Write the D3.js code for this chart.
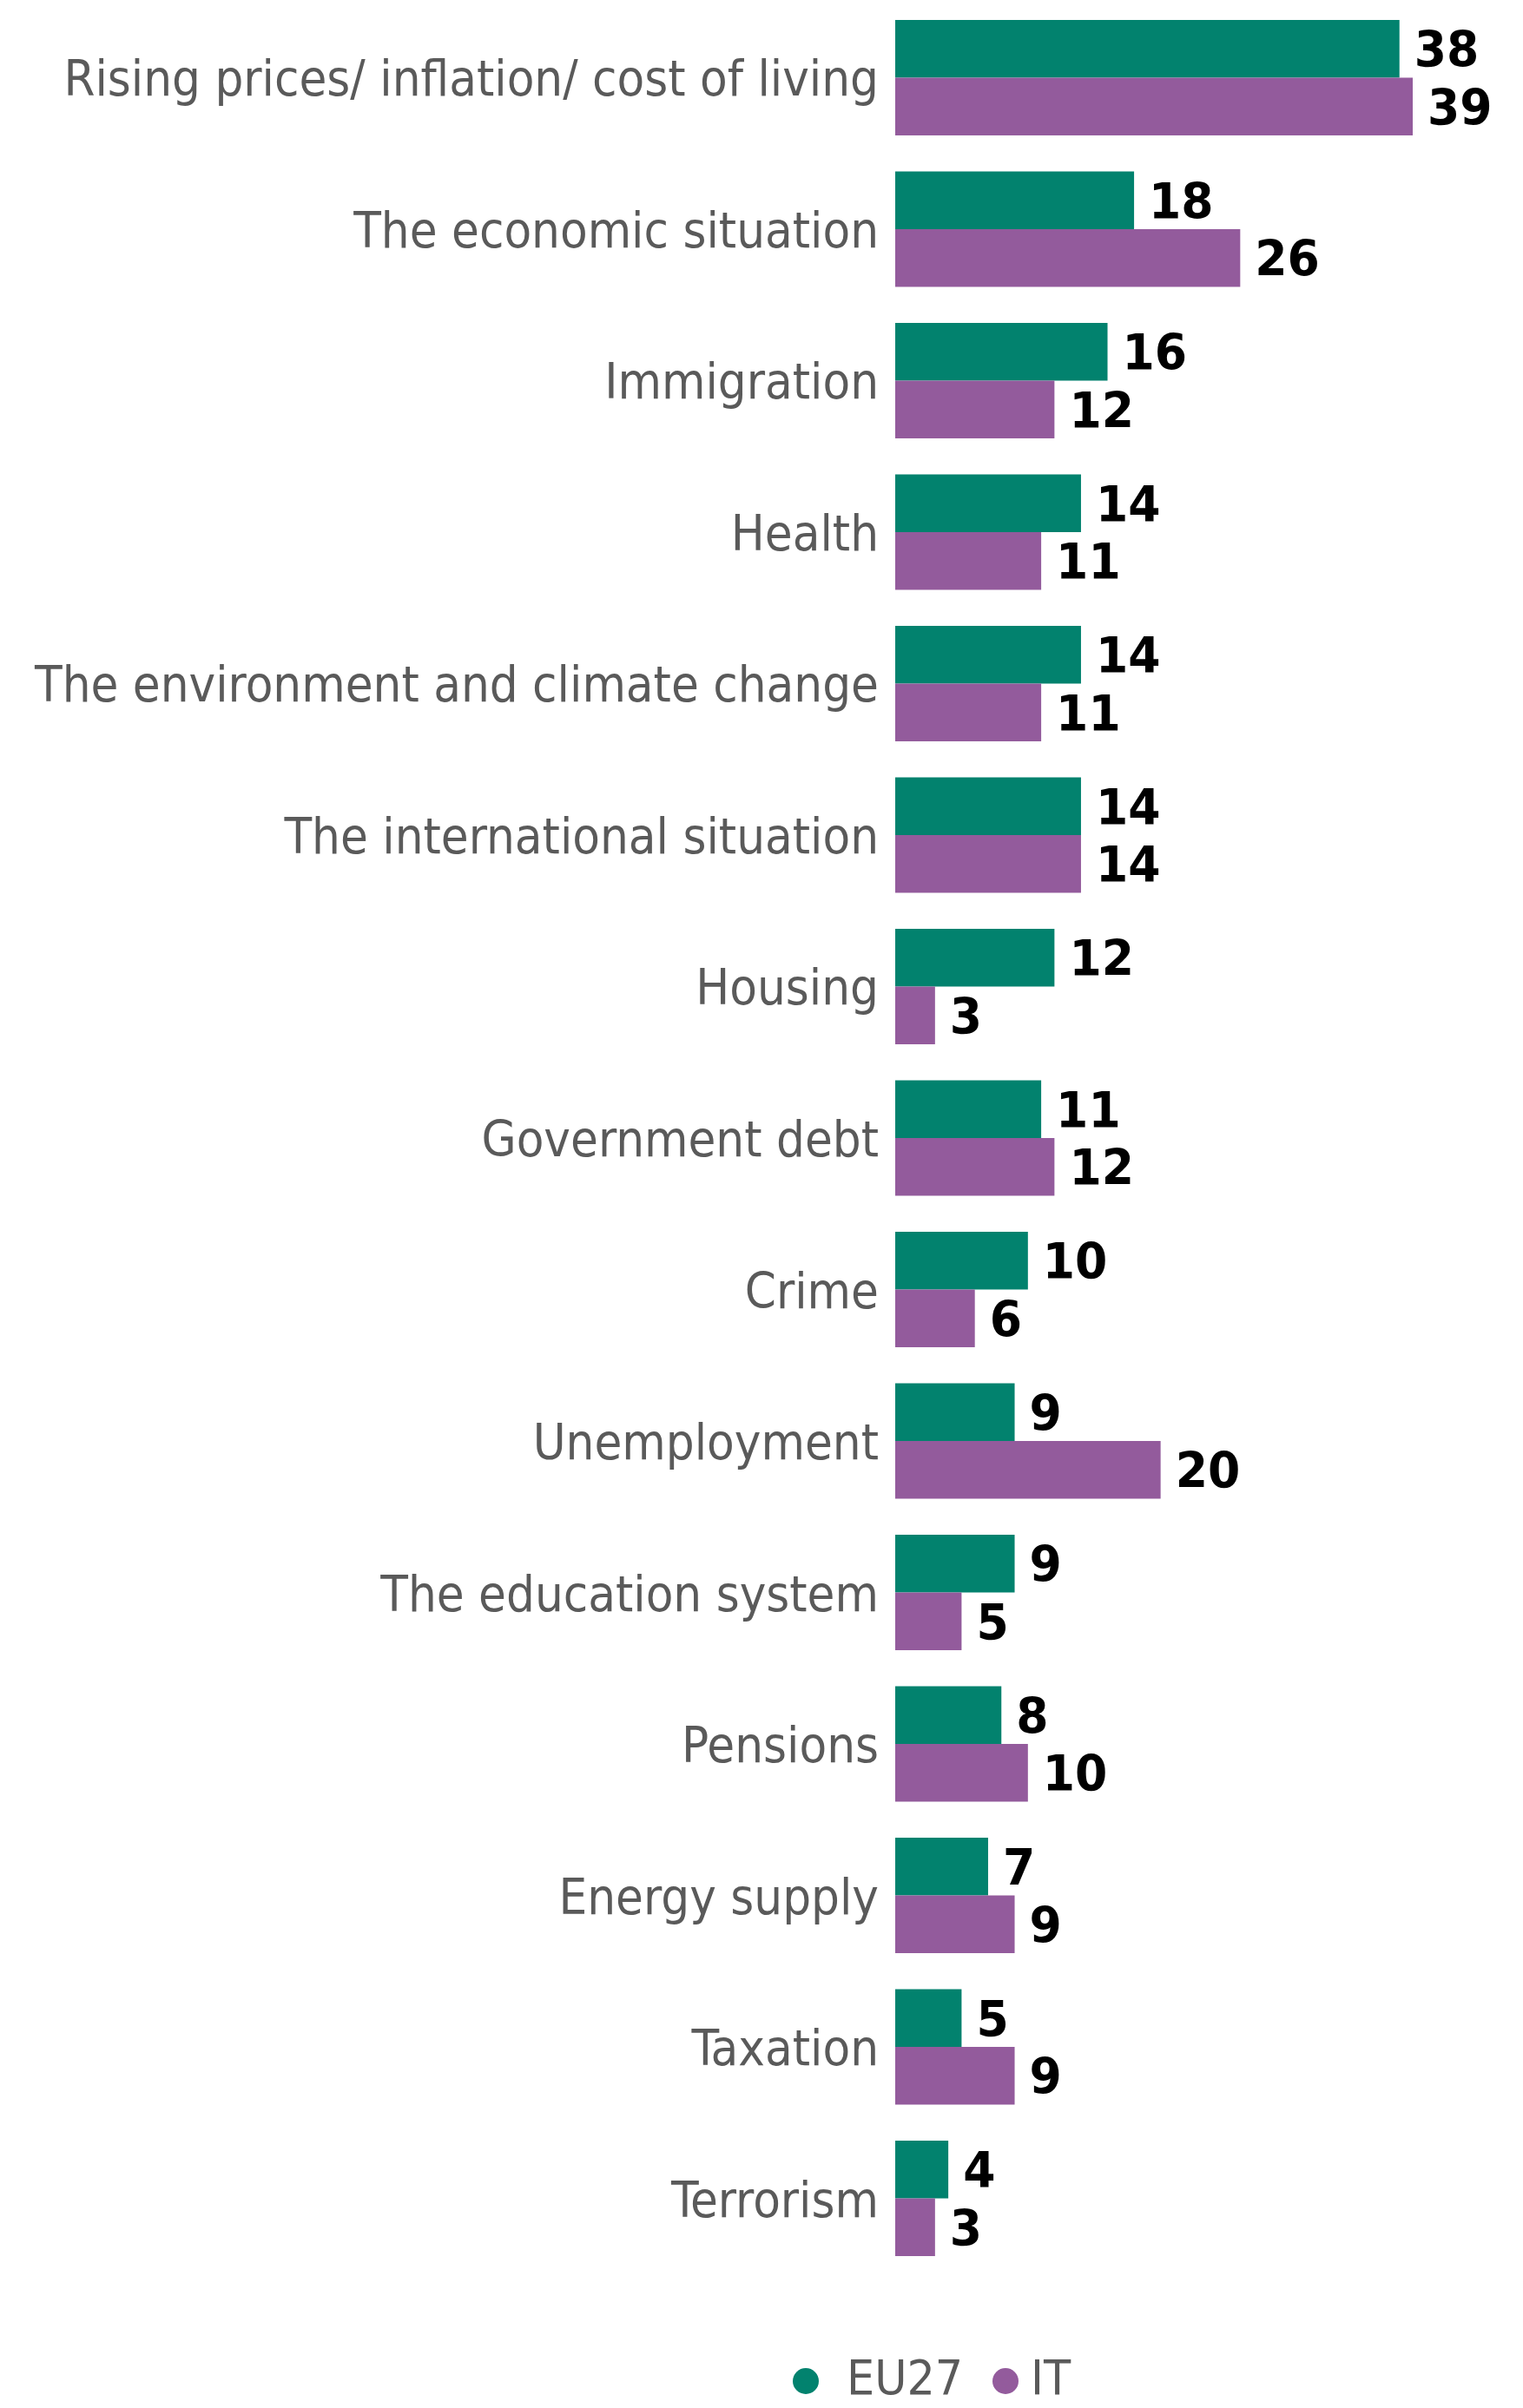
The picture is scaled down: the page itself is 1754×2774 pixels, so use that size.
<!DOCTYPE html>
<html>
<head>
<meta charset="utf-8">
<script src="https://cdn.jsdelivr.net/npm/d3@7"></script>
<style>
  html, body { margin: 0; padding: 0; background: #ffffff; }
  svg { display: block; }
</style>
</head>
<body>
<script>
const categories = [
  "Rising prices/ inflation/ cost of living",
  "The economic situation",
  "Immigration",
  "Health",
  "The environment and climate change",
  "The international situation",
  "Housing",
  "Government debt",
  "Crime",
  "Unemployment",
  "The education system",
  "Pensions",
  "Energy supply",
  "Taxation",
  "Terrorism"
];
const seriesNames = ["EU27", "IT"];
const eu27Values = [38, 18, 16, 14, 14, 14, 12, 11, 10, 9, 9, 8, 7, 5, 4];
const itValues   = [39, 26, 12, 11, 11, 14, 3, 12, 6, 20, 5, 10, 9, 9, 3];
const seriesColors = ["#02826E", "#935B9C"];

const W = 1754, H = 2774;
const svg = d3.select("body").append("svg").attr("width", W).attr("height", H);

const data = categories.map((c, i) => ({ cat: c, values: [eu27Values[i], itValues[i]] }));

const y = d3.scaleBand().domain(categories).range([23, 2599]).paddingInner(0.238).paddingOuter(0);
const ySub = d3.scaleBand().domain(seriesNames).range([0, y.bandwidth()]).padding(0);
const x = d3.scaleLinear().domain([0, 39]).range([1031, 1627]);
const color = d3.scaleOrdinal().domain(seriesNames).range(seriesColors);

const groups = svg.append("g").selectAll("g").data(data).join("g")
  .attr("transform", d => `translate(0,${y(d.cat)})`);

groups.selectAll("rect").data(d => seriesNames.map((s, k) => ({ s, v: d.values[k] }))).join("rect")
  .attr("x", x(0))
  .attr("y", d => ySub(d.s))
  .attr("width", d => x(d.v) - x(0))
  .attr("height", ySub.bandwidth())
  .attr("fill", d => color(d.s));

const vals = groups.selectAll("text.val").data(d => seriesNames.map((s, k) => ({ s, v: d.values[k] }))).join("text")
  .attr("class", "val")
  .attr("x", d => x(d.v) + 17)
  .attr("y", d => ySub(d.s) + ySub.bandwidth() / 2 + 21)
  .attr("font-family", "'DejaVu Sans', sans-serif")
  .attr("font-weight", "bold")
  .attr("font-size", 57)
  .attr("fill", "#000")
  .text(d => d.v);
vals.each(function () {
  const w = this.getComputedTextLength();
  d3.select(this).attr("textLength", w * 0.94).attr("lengthAdjust", "spacingAndGlyphs");
});

// category labels
const labels = groups.append("text")
  .attr("class", "cat")
  .attr("x", 1012)
  .attr("y", y.bandwidth() / 2 + 21)
  .attr("text-anchor", "end")
  .attr("font-family", "'DejaVu Sans', sans-serif")
  .attr("font-stretch", "condensed")
  .attr("font-size", 57)
  .attr("fill", "#5a5a5a")
  .text(d => d.cat);

// calibrate widths so the longest label spans the reference width
let maxW = 0;
labels.each(function () { maxW = Math.max(maxW, this.getComputedTextLength()); });
const ratio = 972 / maxW;
labels.each(function () {
  const w = this.getComputedTextLength();
  d3.select(this).attr("textLength", w * ratio).attr("lengthAdjust", "spacingAndGlyphs");
});

// legend
const legend = svg.append("g");
const legendItems = [
  { s: "EU27", cx: 928, tx: 975 },
  { s: "IT", cx: 1158, tx: 1187 }
];
legend.selectAll("circle").data(legendItems).join("circle")
  .attr("cx", d => d.cx).attr("cy", 2743).attr("r", 15)
  .attr("fill", d => color(d.s));
const legTexts = legend.selectAll("text").data(legendItems).join("text")
  .attr("x", d => d.tx).attr("y", 2758)
  .attr("font-family", "'DejaVu Sans', sans-serif")
  .attr("font-stretch", "condensed")
  .attr("font-size", 56)
  .attr("fill", "#5a5a5a")
  .text(d => d.s);
legTexts.each(function () {
  const w = this.getComputedTextLength();
  d3.select(this).attr("textLength", w * ratio).attr("lengthAdjust", "spacingAndGlyphs");
});
</script>
</body>
</html>
